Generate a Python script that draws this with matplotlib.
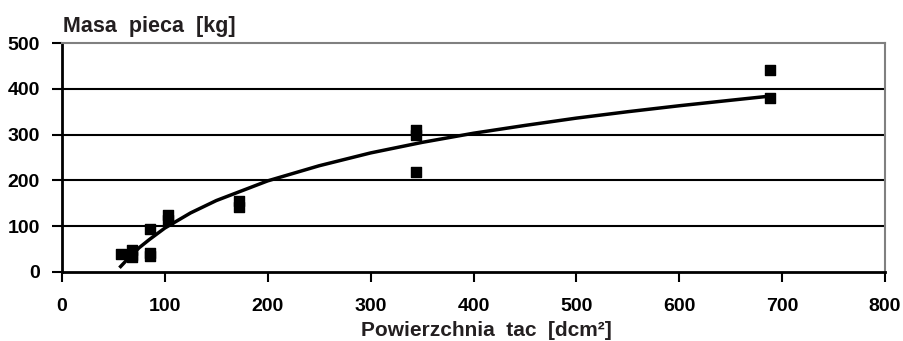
import matplotlib.pyplot as plt

plt.rcParams['font.family'] = ['Liberation Sans', 'DejaVu Sans']
plt.rcParams['font.weight'] = 'bold'

# measured points: tray area [dcm2] vs furnace mass [kg]
area = [57, 68, 68, 68, 86, 86, 86, 103, 103, 172, 172, 344, 344, 344, 688, 688]
mass = [40, 48, 38, 32, 93, 42, 35, 125, 113, 155, 143, 311, 300, 219, 442, 380]

# trend line
trend_x = [57, 65, 75, 85, 100, 125, 150, 200, 250, 300, 350, 400, 450, 500, 550, 600, 650, 688]
trend_y = [12, 31, 53, 71, 96, 129, 156, 199, 232, 260, 283, 303, 320, 336, 350, 363, 375, 384]

x_ticks = [0, 100, 200, 300, 400, 500, 600, 700, 800]
y_ticks = [0, 100, 200, 300, 400, 500]

fig = plt.figure(figsize=(9.04, 3.41), dpi=100)
ax = fig.add_axes([62 / 904, 1 - 272 / 341, 823 / 904, 229 / 341])

for yv in y_ticks[1:-1]:
    ax.axhline(yv, color='black', lw=1.5, zorder=1)

ax.plot(trend_x, trend_y, color='black', lw=2.5, zorder=2)
ax.scatter(area, mass, marker='s', s=52, color='black', zorder=3)

ax.set_xlim(0, 800)
ax.set_ylim(0, 500)
ax.set_xticks(x_ticks)
ax.set_yticks(y_ticks)
ax.tick_params(axis='x', direction='out', length=7, width=1.5, pad=12, labelsize=14)
ax.tick_params(axis='y', direction='out', length=7, width=1.5, pad=9, labelsize=14)

for side in ['left', 'bottom']:
    ax.spines[side].set_color('black')
    ax.spines[side].set_linewidth(2)
for side in ['top', 'right']:
    ax.spines[side].set_color('#808080')
    ax.spines[side].set_linewidth(1.5)

fig.text(63 / 904, 1 - 32 / 341, 'Masa  pieca  [kg]', fontsize=15.5,
         fontweight='bold', ha='left', va='baseline', color='#231f20')
fig.text(486 / 904, 1 - 336 / 341, 'Powierzchnia  tac  [dcm²]', fontsize=15,
         fontweight='bold', ha='center', va='baseline', color='#231f20')

fig.savefig('out.png', dpi=100)
